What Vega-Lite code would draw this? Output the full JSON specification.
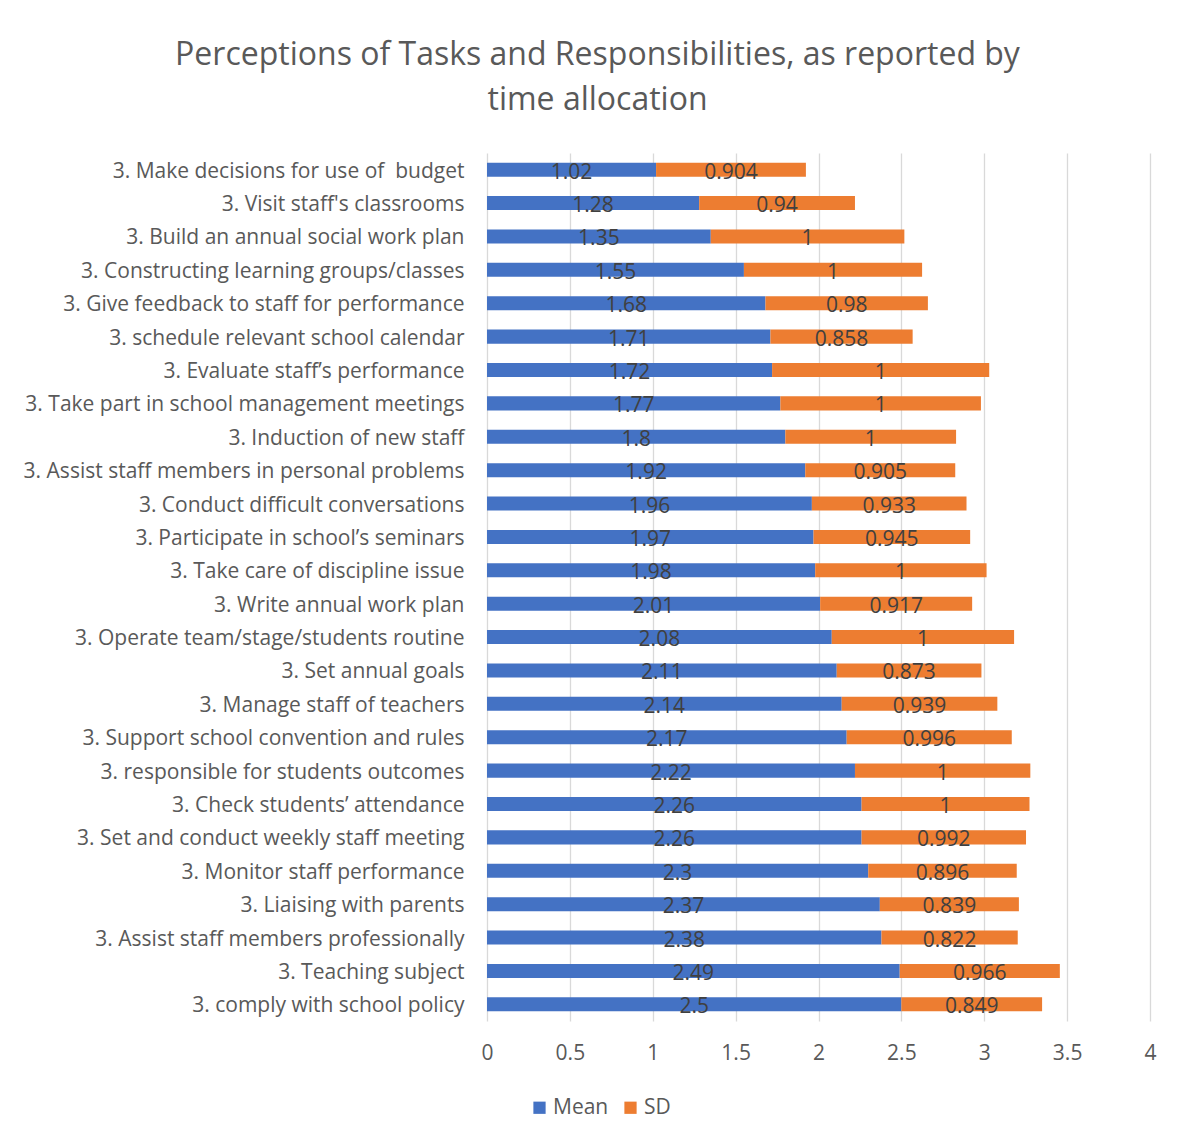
{
  "$schema": "https://vega.github.io/schema/vega-lite/v6.json",
  "width": 663,
  "height": 868,
  "autosize": "none",
  "padding": {"left": 487, "top": 153, "right": 27, "bottom": 115},
  "background": "white",
  "title": {
    "text": ["Perceptions of Tasks and Responsibilities, as reported by", "time allocation"],
    "font": "Open Sans",
    "fontSize": 32,
    "fontWeight": "normal",
    "color": "#595959",
    "anchor": "middle",
    "dx": -221,
    "offset": 36,
    "lineHeight": 45
  },
  "config": {
    "view": {"stroke": null},
    "font": "Open Sans"
  },
  "data": {
    "values": [
      {"task": "3. Make decisions for use of \u00a0budget", "series": "Mean", "value": 1.02, "label": "1.02"},
      {"task": "3. Make decisions for use of \u00a0budget", "series": "SD", "value": 0.904, "label": "0.904"},
      {"task": "3. Visit staff's classrooms", "series": "Mean", "value": 1.28, "label": "1.28"},
      {"task": "3. Visit staff's classrooms", "series": "SD", "value": 0.94, "label": "0.94"},
      {"task": "3. Build an annual social work plan", "series": "Mean", "value": 1.35, "label": "1.35"},
      {"task": "3. Build an annual social work plan", "series": "SD", "value": 1.168, "label": "1"},
      {"task": "3. Constructing learning groups/classes", "series": "Mean", "value": 1.55, "label": "1.55"},
      {"task": "3. Constructing learning groups/classes", "series": "SD", "value": 1.075, "label": "1"},
      {"task": "3. Give feedback to staff for performance", "series": "Mean", "value": 1.68, "label": "1.68"},
      {"task": "3. Give feedback to staff for performance", "series": "SD", "value": 0.98, "label": "0.98"},
      {"task": "3. schedule relevant school calendar", "series": "Mean", "value": 1.71, "label": "1.71"},
      {"task": "3. schedule relevant school calendar", "series": "SD", "value": 0.858, "label": "0.858"},
      {"task": "3. Evaluate staff’s performance", "series": "Mean", "value": 1.72, "label": "1.72"},
      {"task": "3. Evaluate staff’s performance", "series": "SD", "value": 1.31, "label": "1"},
      {"task": "3. Take part in school management meetings", "series": "Mean", "value": 1.77, "label": "1.77"},
      {"task": "3. Take part in school management meetings", "series": "SD", "value": 1.21, "label": "1"},
      {"task": "3. Induction of new staff", "series": "Mean", "value": 1.8, "label": "1.8"},
      {"task": "3. Induction of new staff", "series": "SD", "value": 1.03, "label": "1"},
      {"task": "3. Assist staff members in personal problems", "series": "Mean", "value": 1.92, "label": "1.92"},
      {"task": "3. Assist staff members in personal problems", "series": "SD", "value": 0.905, "label": "0.905"},
      {"task": "3. Conduct difficult conversations", "series": "Mean", "value": 1.96, "label": "1.96"},
      {"task": "3. Conduct difficult conversations", "series": "SD", "value": 0.933, "label": "0.933"},
      {"task": "3. Participate in school’s seminars", "series": "Mean", "value": 1.97, "label": "1.97"},
      {"task": "3. Participate in school’s seminars", "series": "SD", "value": 0.945, "label": "0.945"},
      {"task": "3. Take care of discipline issue", "series": "Mean", "value": 1.98, "label": "1.98"},
      {"task": "3. Take care of discipline issue", "series": "SD", "value": 1.034, "label": "1"},
      {"task": "3. Write annual work plan", "series": "Mean", "value": 2.01, "label": "2.01"},
      {"task": "3. Write annual work plan", "series": "SD", "value": 0.917, "label": "0.917"},
      {"task": "3. Operate team/stage/students routine", "series": "Mean", "value": 2.08, "label": "2.08"},
      {"task": "3. Operate team/stage/students routine", "series": "SD", "value": 1.1, "label": "1"},
      {"task": "3. Set annual goals", "series": "Mean", "value": 2.11, "label": "2.11"},
      {"task": "3. Set annual goals", "series": "SD", "value": 0.873, "label": "0.873"},
      {"task": "3. Manage staff of teachers", "series": "Mean", "value": 2.14, "label": "2.14"},
      {"task": "3. Manage staff of teachers", "series": "SD", "value": 0.939, "label": "0.939"},
      {"task": "3. Support school convention and rules", "series": "Mean", "value": 2.17, "label": "2.17"},
      {"task": "3. Support school convention and rules", "series": "SD", "value": 0.996, "label": "0.996"},
      {"task": "3. responsible for students outcomes", "series": "Mean", "value": 2.22, "label": "2.22"},
      {"task": "3. responsible for students outcomes", "series": "SD", "value": 1.058, "label": "1"},
      {"task": "3. Check students’ attendance", "series": "Mean", "value": 2.26, "label": "2.26"},
      {"task": "3. Check students’ attendance", "series": "SD", "value": 1.013, "label": "1"},
      {"task": "3. Set and conduct weekly staff meeting", "series": "Mean", "value": 2.26, "label": "2.26"},
      {"task": "3. Set and conduct weekly staff meeting", "series": "SD", "value": 0.992, "label": "0.992"},
      {"task": "3. Monitor staff performance", "series": "Mean", "value": 2.3, "label": "2.3"},
      {"task": "3. Monitor staff performance", "series": "SD", "value": 0.896, "label": "0.896"},
      {"task": "3. Liaising with parents", "series": "Mean", "value": 2.37, "label": "2.37"},
      {"task": "3. Liaising with parents", "series": "SD", "value": 0.839, "label": "0.839"},
      {"task": "3. Assist staff members professionally", "series": "Mean", "value": 2.38, "label": "2.38"},
      {"task": "3. Assist staff members professionally", "series": "SD", "value": 0.822, "label": "0.822"},
      {"task": "3. Teaching subject", "series": "Mean", "value": 2.49, "label": "2.49"},
      {"task": "3. Teaching subject", "series": "SD", "value": 0.966, "label": "0.966"},
      {"task": "3. comply with school policy", "series": "Mean", "value": 2.5, "label": "2.5"},
      {"task": "3. comply with school policy", "series": "SD", "value": 0.849, "label": "0.849"}
    ]
  },
  "transform": [
    {"stack": "value", "groupby": ["task"], "sort": [{"field": "series", "order": "ascending"}], "as": ["x0", "x1"]},
    {"calculate": "(datum.x0 + datum.x1) / 2", "as": "xm"}
  ],
  "encoding": {
    "y": {
      "field": "task",
      "type": "nominal",
      "sort": null,
      "title": null,
      "scale": {"paddingInner": 0.58, "paddingOuter": 0.29},
      "axis": {
        "ticks": false,
        "domain": false,
        "labelFontSize": 21,
        "labelColor": "#595959",
        "labelPadding": 23,
        "labelOffset": 2,
        "labelLimit": 600,
        "labelFont": "Open Sans"
      }
    }
  },
  "layer": [
    {
      "mark": {"type": "bar"},
      "encoding": {
        "x": {
          "field": "x0",
          "type": "quantitative",
          "title": null,
          "scale": {"domain": [0, 4], "nice": false},
          "axis": {
            "values": [0, 0.5, 1, 1.5, 2, 2.5, 3, 3.5, 4],
            "format": "~g",
            "grid": true,
            "gridColor": "#D9D9D9",
            "gridWidth": 1.3,
            "domain": false,
            "ticks": false,
            "labelFlush": false,
            "labelFontSize": 21,
            "labelColor": "#595959",
            "labelPadding": 21,
            "labelFont": "Open Sans"
          }
        },
        "x2": {"field": "x1"},
        "color": {
          "field": "series",
          "type": "nominal",
          "scale": {"domain": ["Mean", "SD"], "range": ["#4472C4", "#ED7D31"]},
          "legend": {
            "title": null,
            "orient": "none",
            "legendX": 42,
            "legendY": 944,
            "direction": "horizontal",
            "symbolType": "square",
            "symbolSize": 150,
            "symbolStrokeWidth": 0,
            "labelFontSize": 21,
            "labelColor": "#595959",
            "labelOffset": 3,
            "columnPadding": 11,
            "padding": 0,
            "labelFont": "Open Sans"
          }
        }
      }
    },
    {
      "mark": {"type": "text", "fontSize": 21, "color": "#404040", "baseline": "middle", "dy": 3, "font": "Open Sans"},
      "encoding": {
        "x": {"field": "xm", "type": "quantitative"},
        "text": {"field": "label"}
      }
    }
  ]
}
